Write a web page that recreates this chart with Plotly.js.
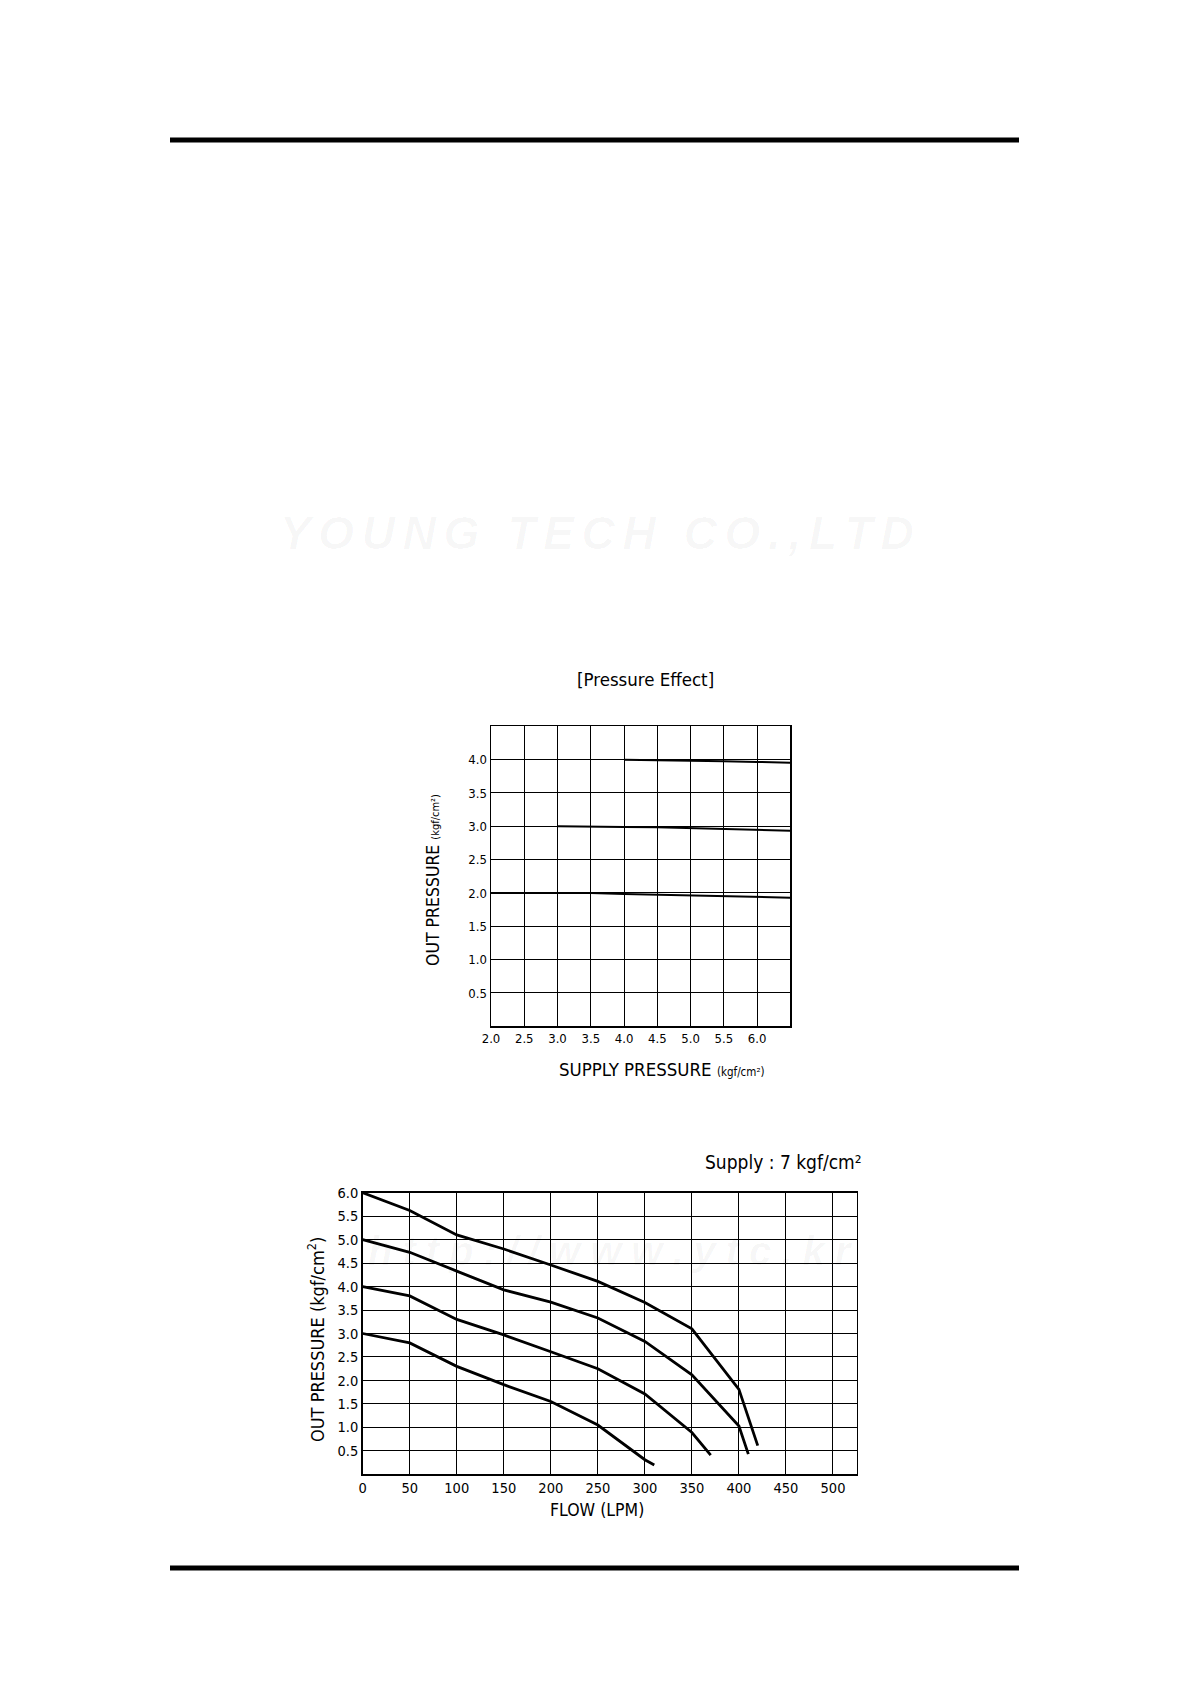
<!DOCTYPE html>
<html>
<head>
<meta charset="utf-8">
<script src="https://cdn.plot.ly/plotly-3.0.1.min.js"></script>
<style>
  html, body { margin: 0; padding: 0; background: #fff; }
  #chart { width: 1191px; height: 1685px; }
</style>
</head>
<body>
<div id="chart"></div>
<script>
// ---------- Data: Pressure Effect ----------
const peSupply20 = [2.0, 2.5, 3.0, 3.5, 4.0, 4.5, 5.0, 5.5, 6.0, 6.5];
const peOut20    = [2.0, 2.0, 2.0, 2.0, 1.985, 1.975, 1.965, 1.945, 1.94, 1.93];
const peSupply30 = [3.0, 3.5, 4.0, 4.5, 5.0, 5.5, 6.0, 6.5];
const peOut30    = [3.0, 3.0, 2.99, 2.985, 2.975, 2.96, 2.945, 2.935];
const peSupply40 = [4.0, 4.5, 5.0, 5.5, 6.0, 6.5];
const peOut40    = [4.0, 3.995, 3.985, 3.975, 3.965, 3.955];
const peXTicks   = [2.0, 2.5, 3.0, 3.5, 4.0, 4.5, 5.0, 5.5, 6.0];
const peYTicks   = [0.5, 1.0, 1.5, 2.0, 2.5, 3.0, 3.5, 4.0];

// ---------- Data: Flow characteristics (Supply 7 kgf/cm2) ----------
const flow30 = [0, 50, 100, 150, 200, 250, 300, 310];
const out30  = [3.0, 2.8, 2.3, 1.91, 1.55, 1.05, 0.31, 0.2];
const flow40 = [0, 50, 100, 150, 200, 250, 300, 350, 370];
const out40  = [4.0, 3.8, 3.3, 2.97, 2.61, 2.25, 1.71, 0.89, 0.41];
const flow50 = [0, 50, 100, 150, 200, 250, 300, 350, 400, 410];
const out50  = [5.0, 4.73, 4.33, 3.93, 3.67, 3.33, 2.83, 2.12, 1.03, 0.43];
const flow60 = [0, 50, 100, 150, 200, 250, 300, 350, 400, 420];
const out60  = [6.0, 5.62, 5.1, 4.8, 4.46, 4.11, 3.66, 3.1, 1.81, 0.61];
const flXTicks = [0, 50, 100, 150, 200, 250, 300, 350, 400, 450, 500];
const flYTicks = [0.5, 1.0, 1.5, 2.0, 2.5, 3.0, 3.5, 4.0, 4.5, 5.0, 5.5, 6.0];

// ---------- Layout helpers ----------
const W = 1191, H = 1685;
const px = v => v / W;
const py = v => 1 - v / H;
const FONT = '"DejaVu Sans Condensed", "Liberation Sans Narrow", Roboto, sans-serif';
const WM_FONT = 'Liberation Sans, Arial, sans-serif';
const spaced = (s, gap) => s.split('').join(gap);

const line1 = { color: '#000', width: 2 };
const line2 = { color: '#000', width: 2.8 };

const traces = [
  { x: peSupply20, y: peOut20, xaxis: 'x', yaxis: 'y', mode: 'lines', line: line1, hoverinfo: 'skip' },
  { x: peSupply30, y: peOut30, xaxis: 'x', yaxis: 'y', mode: 'lines', line: line1, hoverinfo: 'skip' },
  { x: peSupply40, y: peOut40, xaxis: 'x', yaxis: 'y', mode: 'lines', line: line1, hoverinfo: 'skip' },
  { x: flow30, y: out30, xaxis: 'x2', yaxis: 'y2', mode: 'lines', line: line2, hoverinfo: 'skip' },
  { x: flow40, y: out40, xaxis: 'x2', yaxis: 'y2', mode: 'lines', line: line2, hoverinfo: 'skip' },
  { x: flow50, y: out50, xaxis: 'x2', yaxis: 'y2', mode: 'lines', line: line2, hoverinfo: 'skip' },
  { x: flow60, y: out60, xaxis: 'x2', yaxis: 'y2', mode: 'lines', line: line2, hoverinfo: 'skip' }
];

const axisCommon = {
  showgrid: true, gridcolor: '#000', gridwidth: 1,
  showline: true, linecolor: '#000', linewidth: 1.5, mirror: true,
  zeroline: false, ticks: '', tickmode: 'array',
  tickfont: { family: FONT, size: 13, color: '#000' },
  fixedrange: true
};

function ann(x, y, text, size, extra) {
  return Object.assign({
    xref: 'paper', yref: 'paper', x: px(x), y: py(y), showarrow: false,
    xanchor: 'center', yanchor: 'middle', text: text,
    font: { family: FONT, size: size, color: '#000' }
  }, extra || {});
}

const layout = {
  width: W, height: H,
  margin: { l: 0, r: 0, t: 0, b: 0 },
  paper_bgcolor: '#fff', plot_bgcolor: '#fff',
  showlegend: false,
  font: { family: FONT, color: '#000' },
  xaxis: Object.assign({}, axisCommon, {
    domain: [px(491), px(790.3)], anchor: 'y',
    range: [2.0, 6.5], tickvals: peXTicks, tickformat: '.1f'
  }),
  yaxis: Object.assign({}, axisCommon, {
    domain: [py(1026.3), py(726.3)], anchor: 'x',
    range: [0, 4.5], tickvals: peYTicks, tickformat: '.1f'
  }),
  xaxis2: Object.assign({}, axisCommon, {
    domain: [px(362.7), px(856.5)], anchor: 'y2',
    range: [0, 525], tickvals: flXTicks,
    tickfont: { family: FONT, size: 14.5, color: '#000' }
  }),
  yaxis2: Object.assign({}, axisCommon, {
    domain: [py(1474.3), py(1192.7)], anchor: 'x2',
    range: [0, 6], tickvals: flYTicks, tickformat: '.1f',
    tickfont: { family: FONT, size: 14.5, color: '#000' }
  }),
  shapes: [
    { type: 'line', xref: 'paper', yref: 'paper', x0: px(170), x1: px(1019), y0: py(140), y1: py(140),
      line: { color: '#000', width: 5 } },
    { type: 'line', xref: 'paper', yref: 'paper', x0: px(170), x1: px(1019), y0: py(1568), y1: py(1568),
      line: { color: '#000', width: 5 } }
  ],
  annotations: [
    // faint watermarks
    ann(597, 533, spaced('YOUNG TECH CO.,LTD', '\u2006'), 46,
      { font: { family: WM_FONT, size: 46, color: 'rgba(0,0,0,0.03)', weight: 'bold', style: 'italic' } }),
    ann(610, 1251, spaced('http://www.ytc.kr', '\u2005'), 40,
      { font: { family: WM_FONT, size: 40, color: 'rgba(0,0,0,0.035)', weight: 'bold', style: 'italic' } }),
    // chart 1 titles
    ann(645, 680, '[Pressure Effect]', 18.5),
    ann(433, 880, 'OUT PRESSURE <span style="font-size:11px">(kgf/cm²)</span>', 17.5, { textangle: -90 }),
    ann(662, 1069, 'SUPPLY PRESSURE <span style="font-size:11.5px">(kgf/cm²)</span>', 18.5),
    // chart 2 titles
    ann(864, 1162, 'Supply : 7 kgf/cm²', 19, { xanchor: 'right' }),
    ann(316, 1340, 'OUT PRESSURE (kgf/cm<sup>2</sup>)', 18, { textangle: -90 }),
    ann(597, 1510, 'FLOW (LPM)', 17.5)
  ]
};

Plotly.newPlot('chart', traces, layout, { staticPlot: true, displayModeBar: false });
</script>
</body>
</html>
